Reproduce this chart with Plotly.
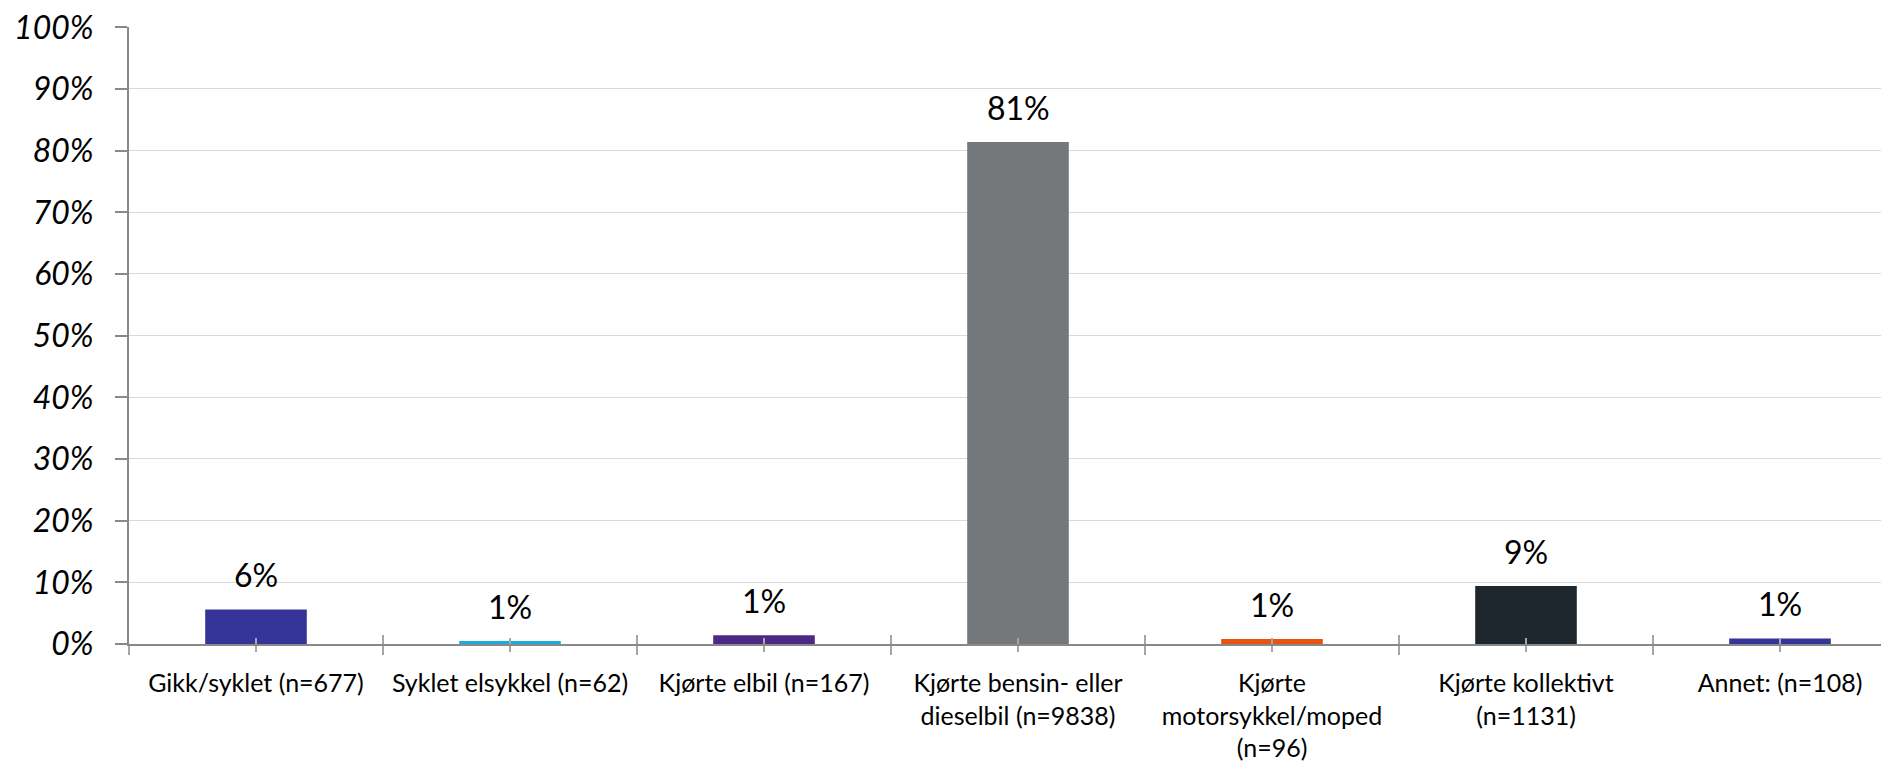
import plotly.graph_objects as go

categories = [
    "Gikk/syklet (n=677)",
    "Syklet elsykkel (n=62)",
    "Kjørte elbil (n=167)",
    "Kjørte bensin- eller<br>dieselbil (n=9838)",
    "Kjørte<br>motorsykkel/moped<br>(n=96)",
    "Kjørte kollektivt<br>(n=1131)",
    "Annet: (n=108)",
]
values = [5.6, 0.5, 1.4, 81.4, 0.8, 9.4, 0.9]
labels = ["6%", "1%", "1%", "81%", "1%", "9%", "1%"]
colors = ["#353599", "#1AAFDB", "#4B2A85", "#74787B", "#E8540F", "#1E272E", "#353599"]
y_ticks = [0, 10, 20, 30, 40, 50, 60, 70, 80, 90, 100]
y_ticktext = [f"{v}%" for v in y_ticks]

xpos = list(range(len(categories)))
bounds = [i + 0.5 for i in range(-1, len(categories))]

FONT = "Lato"
AXIS_GRAY = "#898989"
TICK_GRAY = "#A6A6A6"

fig = go.Figure()
fig.add_trace(go.Bar(
    x=xpos, y=values, width=0.4,
    marker=dict(color=colors, line=dict(width=0)),
    hoverinfo="skip", showlegend=False,
))
# invisible trace so the overlay axis is drawn
fig.add_trace(go.Scatter(x=[0], y=[0], xaxis="x2", mode="markers",
                         marker=dict(opacity=0), hoverinfo="skip", showlegend=False))

for xp, v, t in zip(xpos, values, labels):
    fig.add_annotation(x=xp, y=v, text=t, showarrow=False, yanchor="bottom",
                       yshift=13, font=dict(family=FONT, size=32, color="#000000"))

xrange = [-0.5, -0.5 + 1760 / 254]

# page body has an 8px margin; figure size compensates so it fills the window
fig.update_layout(
    width=1881, height=755,
    margin=dict(l=121, r=0, t=19, b=119, autoexpand=False),
    paper_bgcolor="white", plot_bgcolor="white",
    bargap=0.6,
    xaxis=dict(
        range=xrange, tickmode="array", tickvals=xpos, ticktext=categories,
        ticks="outside", ticklen=6, tickwidth=1.5, tickcolor=TICK_GRAY,
        minor=dict(tickmode="array", tickvals=bounds, ticks="outside", ticklen=9,
                   tickwidth=1.5, tickcolor=TICK_GRAY, showgrid=False),
        showline=True, linecolor=AXIS_GRAY, linewidth=2,
        showgrid=False, zeroline=False, automargin=False,
        tickfont=dict(family=FONT, size=25, color="#000000"),
        ticklabelstandoff=10, ticklabeloverflow="allow",
    ),
    xaxis2=dict(
        overlaying="x", anchor="y", side="bottom", matches="x",
        range=xrange, tickmode="array", tickvals=xpos, ticktext=["" for _ in xpos],
        ticks="inside", ticklen=6, tickwidth=1.5, tickcolor=TICK_GRAY,
        minor=dict(tickmode="array", tickvals=bounds, ticks="inside", ticklen=9,
                   tickwidth=1.5, tickcolor=TICK_GRAY, showgrid=False),
        showline=False, showgrid=False, zeroline=False, showticklabels=False,
        automargin=False,
    ),
    yaxis=dict(
        range=[0, 100.05], tickmode="array", tickvals=y_ticks, ticktext=y_ticktext,
        ticks="outside", ticklen=12, tickwidth=1.5, tickcolor=AXIS_GRAY,
        showline=True, linecolor=AXIS_GRAY, linewidth=2,
        showgrid=True, gridcolor="#D9D9D9", gridwidth=1, zeroline=False,
        automargin=False,
        tickfont=dict(family=FONT, size=32, color="#000000", style="italic"),
        ticklabelstandoff=15, ticklabeloverflow="allow",
    ),
)

fig.write_html("out.html")
